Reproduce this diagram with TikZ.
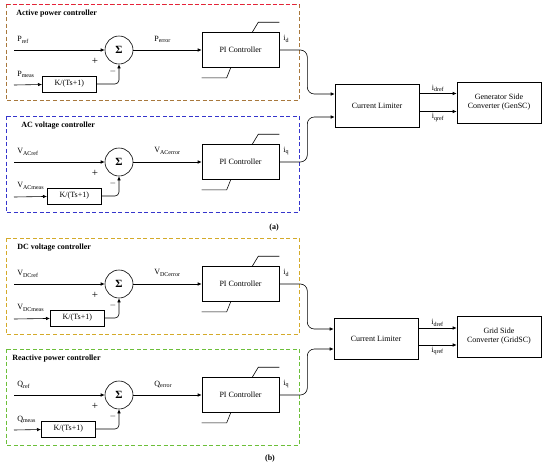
\documentclass[tikz,border=0pt]{standalone}
\usepackage{fontspec}
\setmainfont{Liberation Serif}
\definecolor{FrameRed}{HTML}{E8203A}
\definecolor{FrameBrown}{HTML}{A8783C}
\definecolor{FrameBlue}{HTML}{3535CC}
\definecolor{FrameGold}{HTML}{D4AA2A}
\definecolor{FrameGreen}{HTML}{6CBF3A}
\usetikzlibrary{positioning, arrows.meta, calc}

\begin{document}
\begin{tikzpicture}[x=1pt, y=-1pt, line width=0.6pt,
    font=\fontsize{8}{9}\selectfont,
    blk/.style={draw, inner sep=0pt},
    sumnode/.style={draw, circle, minimum size=28pt, inner sep=0pt,
      font=\fontsize{11}{11}\selectfont\bfseries},
    sig/.style={-{Latex[length=4pt,width=3.5pt]}},
    frame/.style={line width=1pt, dash pattern=on 4pt off 2.5pt},
    lbl/.style={inner sep=0pt, anchor=west},
    ttl/.style={lbl, font=\fontsize{8}{9}\selectfont\bfseries}]
  \useasboundingbox (0,0) rectangle (550,467);

  % one controller row each: frame, summing point, filter, PI block
  \foreach \r/\m/\col/\tx/\kx/\title/\base/\pre/\out in {
      ap/50/FrameBrown/16/42/Active power controller/P/{}/d,
      ac/162/FrameBlue/21/47/AC voltage controller/V/AC/q,
      dc/284/FrameGold/17/50/DC voltage controller/V/DC/d,
      rp/395/FrameGreen/12/41/Reactive power controller/Q/{}/q} {
    \draw[frame, \col] (6,\m-46) rectangle (299,\m+50);
    \node[ttl] (ttl\r) at (\tx,\m-36) {\title};
    \coordinate (in\r) at (14,\m);
    \coordinate (mi\r) at (14,\m+35);
    \node[lbl] (rf\r) at (17,\m-10) {\base\textsubscript{\pre ref}};
    \node[lbl] (ms\r) at (17,\m+24) {\base\textsubscript{\pre meas}};
    \node[sumnode] (sum\r) at (119,\m) {Σ};
    \node[font=\fontsize{11}{11}\selectfont] (pl\r) at (95,\m+11) {+};
    \node[font=\fontsize{8}{8}\selectfont] (mn\r) at (113,\m+21) {$-$};
    \node[blk, minimum width=54pt, minimum height=16pt, anchor=west]
      (k\r) at (\kx,\m+34) {K/(Ts+1)};
    \node[blk, minimum width=77pt, minimum height=35pt]
      (pi\r) at (240.5,\m) {PI Controller};
    \node[lbl] (er\r) at (154,\m-11) {\base\textsubscript{\pre error}};
    \node[lbl] (id\r) at (283,\m-11) {i\textsubscript{\out}};
    \draw[sig] (in\r) -- (sum\r);
    \draw[sig] (mi\r) -- (k\r);
    \draw[sig, rounded corners=4pt] (k\r.east) -| (sum\r.south);
    \draw[sig] (sum\r) -- (pi\r);
    % limiter marks
    \draw ($(pi\r.north east)+(-27,0)$) -- ++(6,-10) -- ++(21,0);
    \draw ($(pi\r.south west)+(29,0)$) -- ++(-4,10) -- ++(-25,0);
  }
  \draw[frame, FrameRed] (6,4) -- (299,4);

  % (a) limiter and generator side converter
  \node[blk, minimum width=84pt, minimum height=43pt] (limA) at (377,105.5) {Current Limiter};
  \node[blk, minimum width=84pt, minimum height=41pt, align=center]
    (gscA) at (499,102.5) {Generator Side\\Converter (GenSC)};
  \draw[sig, rounded corners=7pt] (piap.east) -- ++(28,0) |- ([yshift=11.5pt]limA.west);
  \draw[sig, rounded corners=7pt] (piac.east) -- ++(28,0) |- ([yshift=-11.5pt]limA.west);
  \coordinate (dA) at ([yshift=9pt]gscA.west -| limA.east);
  \coordinate (qA) at ([yshift=-9pt]gscA.west -| limA.east);
  \draw[sig] (dA) -- node[above, inner sep=1.5pt] (ldA) {i\textsubscript{dref}} (dA -| gscA.west);
  \draw[sig] (qA) -- node[below, inner sep=1.5pt] (lqA) {i\textsubscript{qref}} (qA -| gscA.west);
  \node[font=\fontsize{8}{9}\selectfont\bfseries] (capA) at (274,228) {(a)};

  % (b) limiter and grid side converter
  \node[blk, minimum width=84pt, minimum height=41pt] (limB) at (376,338.5) {Current Limiter};
  \node[blk, minimum width=84pt, minimum height=41pt, align=center]
    (gscB) at (499,336.5) {Grid Side\\Converter (GridSC)};
  \draw[sig, rounded corners=7pt] (pidc.east) -- ++(28,0) |- ([yshift=9.5pt]limB.west);
  \draw[sig, rounded corners=7pt] (pirp.east) -- ++(28,0) |- ([yshift=-10.5pt]limB.west);
  \coordinate (dB) at ([yshift=8.5pt]gscB.west -| limB.east);
  \coordinate (qB) at ([yshift=-8.5pt]gscB.west -| limB.east);
  \draw[sig] (dB) -- node[above, inner sep=1.5pt] (ldB) {i\textsubscript{dref}} (dB -| gscB.west);
  \draw[sig] (qB) -- node[below, inner sep=1.5pt] (lqB) {i\textsubscript{qref}} (qB -| gscB.west);
  \node[font=\fontsize{8}{9}\selectfont\bfseries] (capB) at (270,459) {(b)};
\end{tikzpicture}
\end{document}
